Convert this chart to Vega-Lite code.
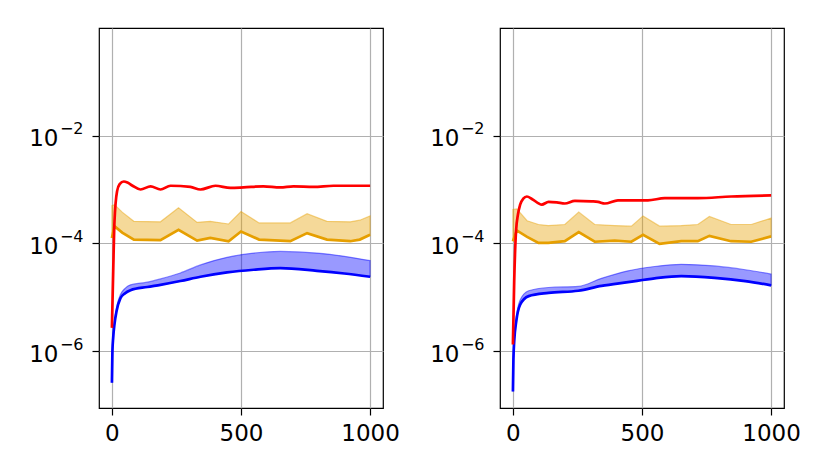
{
  "$schema": "https://vega.github.io/schema/vega-lite/v6.json",
  "description": "Two log-scale panels: red, orange band and blue band series over 0-1000",
  "padding": {"left": 28, "top": 27, "right": 5, "bottom": 5},
  "spacing": 117,
  "bounds": "flush",
  "config": {
    "view": {"stroke": "black", "strokeWidth": 1.2},
    "axis": {
      "domain": false,
      "grid": true,
      "gridColor": "#b0b0b0",
      "gridWidth": 1.2,
      "tickColor": "black",
      "tickSize": 7,
      "tickWidth": 1.2,
      "labelFont": "DejaVu Sans",
      "labelFontSize": 23,
      "labelColor": "black",
      "title": null
    }
  },
  "data": {
    "values": [
      {"p": "L", "s": "red", "x": 0, "y": 2.69e-6},
      {"p": "L", "s": "red", "x": 5, "y": 3.02e-5},
      {"p": "L", "s": "red", "x": 10, "y": 2.57e-4},
      {"p": "L", "s": "red", "x": 20, "y": 9.33e-4},
      {"p": "L", "s": "red", "x": 30, "y": 1.26e-3},
      {"p": "L", "s": "red", "x": 46, "y": 1.41e-3},
      {"p": "L", "s": "red", "x": 60, "y": 1.35e-3},
      {"p": "L", "s": "red", "x": 80, "y": 1.175e-3},
      {"p": "L", "s": "red", "x": 111, "y": 1.0e-3},
      {"p": "L", "s": "red", "x": 150, "y": 1.148e-3},
      {"p": "L", "s": "red", "x": 188, "y": 1.0e-3},
      {"p": "L", "s": "red", "x": 227, "y": 1.175e-3},
      {"p": "L", "s": "red", "x": 304, "y": 1.122e-3},
      {"p": "L", "s": "red", "x": 343, "y": 1.0e-3},
      {"p": "L", "s": "red", "x": 401, "y": 1.175e-3},
      {"p": "L", "s": "red", "x": 459, "y": 1.072e-3},
      {"p": "L", "s": "red", "x": 510, "y": 1.096e-3},
      {"p": "L", "s": "red", "x": 587, "y": 1.148e-3},
      {"p": "L", "s": "red", "x": 652, "y": 1.096e-3},
      {"p": "L", "s": "red", "x": 703, "y": 1.148e-3},
      {"p": "L", "s": "red", "x": 781, "y": 1.122e-3},
      {"p": "L", "s": "red", "x": 858, "y": 1.175e-3},
      {"p": "L", "s": "red", "x": 1000, "y": 1.175e-3},

      {"p": "L", "s": "orange", "x": 0, "y": 1.259e-4, "y2": 5.01e-4},
      {"p": "L", "s": "orange", "x": 10, "y": 2.089e-4, "y2": 5.248e-4},
      {"p": "L", "s": "orange", "x": 40, "y": 1.585e-4, "y2": 3.8e-4},
      {"p": "L", "s": "orange", "x": 85, "y": 1.175e-4, "y2": 2.57e-4},
      {"p": "L", "s": "orange", "x": 188, "y": 1.148e-4, "y2": 2.512e-4},
      {"p": "L", "s": "orange", "x": 258, "y": 1.778e-4, "y2": 4.571e-4},
      {"p": "L", "s": "orange", "x": 330, "y": 1.122e-4, "y2": 2.455e-4},
      {"p": "L", "s": "orange", "x": 381, "y": 1.259e-4, "y2": 2.57e-4},
      {"p": "L", "s": "orange", "x": 452, "y": 1.096e-4, "y2": 2.291e-4},
      {"p": "L", "s": "orange", "x": 500, "y": 1.66e-4, "y2": 3.89e-4},
      {"p": "L", "s": "orange", "x": 570, "y": 1.175e-4, "y2": 2.399e-4},
      {"p": "L", "s": "orange", "x": 691, "y": 1.096e-4, "y2": 2.399e-4},
      {"p": "L", "s": "orange", "x": 756, "y": 1.549e-4, "y2": 3.548e-4},
      {"p": "L", "s": "orange", "x": 833, "y": 1.175e-4, "y2": 2.57e-4},
      {"p": "L", "s": "orange", "x": 923, "y": 1.096e-4, "y2": 2.512e-4},
      {"p": "L", "s": "orange", "x": 960, "y": 1.175e-4, "y2": 2.692e-4},
      {"p": "L", "s": "orange", "x": 1000, "y": 1.445e-4, "y2": 3.236e-4},

      {"p": "L", "s": "blue", "x": 0, "y": 2.57e-7, "y2": 2.57e-7},
      {"p": "L", "s": "blue", "x": 2, "y": 1.0e-6, "y2": 1.047e-6},
      {"p": "L", "s": "blue", "x": 5, "y": 1.778e-6, "y2": 1.905e-6},
      {"p": "L", "s": "blue", "x": 10, "y": 3.162e-6, "y2": 3.548e-6},
      {"p": "L", "s": "blue", "x": 18, "y": 5.495e-6, "y2": 6.457e-6},
      {"p": "L", "s": "blue", "x": 33, "y": 9.55e-6, "y2": 1.122e-5},
      {"p": "L", "s": "blue", "x": 50, "y": 1.175e-5, "y2": 1.445e-5},
      {"p": "L", "s": "blue", "x": 72, "y": 1.349e-5, "y2": 1.698e-5},
      {"p": "L", "s": "blue", "x": 137, "y": 1.549e-5, "y2": 1.905e-5},
      {"p": "L", "s": "blue", "x": 188, "y": 1.698e-5, "y2": 2.188e-5},
      {"p": "L", "s": "blue", "x": 265, "y": 1.995e-5, "y2": 2.818e-5},
      {"p": "L", "s": "blue", "x": 343, "y": 2.399e-5, "y2": 3.981e-5},
      {"p": "L", "s": "blue", "x": 446, "y": 2.884e-5, "y2": 5.495e-5},
      {"p": "L", "s": "blue", "x": 549, "y": 3.236e-5, "y2": 6.607e-5},
      {"p": "L", "s": "blue", "x": 652, "y": 3.467e-5, "y2": 7.079e-5},
      {"p": "L", "s": "blue", "x": 794, "y": 3.09e-5, "y2": 6.607e-5},
      {"p": "L", "s": "blue", "x": 900, "y": 2.754e-5, "y2": 5.754e-5},
      {"p": "L", "s": "blue", "x": 1000, "y": 2.399e-5, "y2": 4.786e-5},

      {"p": "R", "s": "red", "x": 0, "y": 1.318e-6},
      {"p": "R", "s": "red", "x": 5, "y": 1.95e-5},
      {"p": "R", "s": "red", "x": 12, "y": 1.66e-4},
      {"p": "R", "s": "red", "x": 20, "y": 3.548e-4},
      {"p": "R", "s": "red", "x": 28, "y": 5.248e-4},
      {"p": "R", "s": "red", "x": 40, "y": 6.761e-4},
      {"p": "R", "s": "red", "x": 54, "y": 7.413e-4},
      {"p": "R", "s": "red", "x": 75, "y": 6.607e-4},
      {"p": "R", "s": "red", "x": 112, "y": 5.248e-4},
      {"p": "R", "s": "red", "x": 138, "y": 5.888e-4},
      {"p": "R", "s": "red", "x": 170, "y": 5.754e-4},
      {"p": "R", "s": "red", "x": 201, "y": 5.495e-4},
      {"p": "R", "s": "red", "x": 240, "y": 6.166e-4},
      {"p": "R", "s": "red", "x": 304, "y": 6.026e-4},
      {"p": "R", "s": "red", "x": 330, "y": 5.888e-4},
      {"p": "R", "s": "red", "x": 356, "y": 5.495e-4},
      {"p": "R", "s": "red", "x": 407, "y": 6.31e-4},
      {"p": "R", "s": "red", "x": 523, "y": 6.31e-4},
      {"p": "R", "s": "red", "x": 588, "y": 6.918e-4},
      {"p": "R", "s": "red", "x": 716, "y": 6.918e-4},
      {"p": "R", "s": "red", "x": 845, "y": 7.413e-4},
      {"p": "R", "s": "red", "x": 1000, "y": 7.762e-4},

      {"p": "R", "s": "orange", "x": 0, "y": 1.096e-4, "y2": 4.266e-4},
      {"p": "R", "s": "orange", "x": 15, "y": 1.738e-4, "y2": 4.365e-4},
      {"p": "R", "s": "orange", "x": 55, "y": 1.318e-4, "y2": 2.63e-4},
      {"p": "R", "s": "orange", "x": 99, "y": 1.023e-4, "y2": 2.239e-4},
      {"p": "R", "s": "orange", "x": 137, "y": 1.023e-4, "y2": 2.138e-4},
      {"p": "R", "s": "orange", "x": 201, "y": 1.096e-4, "y2": 2.239e-4},
      {"p": "R", "s": "orange", "x": 255, "y": 1.622e-4, "y2": 3.802e-4},
      {"p": "R", "s": "orange", "x": 317, "y": 1.072e-4, "y2": 2.239e-4},
      {"p": "R", "s": "orange", "x": 394, "y": 1.122e-4, "y2": 2.138e-4},
      {"p": "R", "s": "orange", "x": 459, "y": 1.072e-4, "y2": 2.089e-4},
      {"p": "R", "s": "orange", "x": 504, "y": 1.445e-4, "y2": 3.236e-4},
      {"p": "R", "s": "orange", "x": 568, "y": 9.772e-5, "y2": 2.089e-4},
      {"p": "R", "s": "orange", "x": 652, "y": 1.096e-4, "y2": 2.138e-4},
      {"p": "R", "s": "orange", "x": 716, "y": 1.096e-4, "y2": 2.239e-4},
      {"p": "R", "s": "orange", "x": 761, "y": 1.38e-4, "y2": 3.162e-4},
      {"p": "R", "s": "orange", "x": 845, "y": 1.096e-4, "y2": 2.239e-4},
      {"p": "R", "s": "orange", "x": 923, "y": 1.072e-4, "y2": 2.239e-4},
      {"p": "R", "s": "orange", "x": 1000, "y": 1.349e-4, "y2": 2.951e-4},

      {"p": "R", "s": "blue", "x": 0, "y": 1.778e-7, "y2": 1.778e-7},
      {"p": "R", "s": "blue", "x": 2, "y": 7.079e-7, "y2": 7.586e-7},
      {"p": "R", "s": "blue", "x": 5, "y": 1.514e-6, "y2": 1.66e-6},
      {"p": "R", "s": "blue", "x": 13, "y": 3.548e-6, "y2": 4.169e-6},
      {"p": "R", "s": "blue", "x": 28, "y": 7.244e-6, "y2": 8.913e-6},
      {"p": "R", "s": "blue", "x": 61, "y": 1.047e-5, "y2": 1.318e-5},
      {"p": "R", "s": "blue", "x": 138, "y": 1.202e-5, "y2": 1.514e-5},
      {"p": "R", "s": "blue", "x": 253, "y": 1.318e-5, "y2": 1.585e-5},
      {"p": "R", "s": "blue", "x": 343, "y": 1.622e-5, "y2": 2.239e-5},
      {"p": "R", "s": "blue", "x": 446, "y": 1.905e-5, "y2": 3.09e-5},
      {"p": "R", "s": "blue", "x": 549, "y": 2.239e-5, "y2": 3.715e-5},
      {"p": "R", "s": "blue", "x": 652, "y": 2.455e-5, "y2": 4.074e-5},
      {"p": "R", "s": "blue", "x": 781, "y": 2.291e-5, "y2": 3.802e-5},
      {"p": "R", "s": "blue", "x": 900, "y": 1.995e-5, "y2": 3.236e-5},
      {"p": "R", "s": "blue", "x": 1000, "y": 1.66e-5, "y2": 2.692e-5}
    ]
  },
  "hconcat": [
    {
      "width": 284,
      "height": 380,
      "transform": [{"filter": "datum.p == 'L'"}],
      "resolve": {"axis": {"y": "independent"}},
      "encoding": {
        "x": {
          "field": "x",
          "type": "quantitative",
          "scale": {"domain": [-50, 1050], "nice": false, "zero": false},
          "axis": {"values": [0, 500, 1000], "format": "d", "labelPadding": 7, "labelFlush": false}
        }
      },
      "layer": [
        {
          "transform": [{"filter": "datum.s == 'orange'"}],
          "mark": {"type": "area", "fill": "#e69f00", "fillOpacity": 0.4, "stroke": "#e69f00", "strokeOpacity": 0.45, "strokeWidth": 1.2},
          "encoding": {
            "y": {
              "field": "y",
              "type": "quantitative",
              "scale": {"type": "log", "domain": [8.75e-8, 1], "nice": false},
              "axis": {
                "orient": "left",
                "values": [1e-6, 1e-4, 1e-2],
                "labelPadding": 34,
                "labelBaseline": "alphabetic",
                "labelOffset": 10,
                "labelExpr": "'10'"
              }
            },
            "y2": {"field": "y2"}
          }
        },
        {
          "transform": [{"filter": "datum.s == 'blue'"}],
          "mark": {"type": "area", "interpolate": "monotone", "fill": "#0000ff", "fillOpacity": 0.4, "stroke": "#0000ff", "strokeOpacity": 0.45, "strokeWidth": 1.2},
          "encoding": {
            "y": {
              "field": "y",
              "type": "quantitative",
              "axis": {
                "orient": "left",
                "values": [1e-6, 1e-4, 1e-2],
                "grid": false,
                "tickOpacity": 0,
                "labelFontSize": 16,
                "labelPadding": 9,
                "labelBaseline": "alphabetic",
                "labelOffset": -2,
                "labelExpr": "datum.value < 1e-5 ? '−6' : datum.value < 1e-3 ? '−4' : '−2'"
              }
            },
            "y2": {"field": "y2"}
          }
        },
        {
          "transform": [{"filter": "datum.s == 'orange'"}],
          "mark": {"type": "line", "color": "#e69f00", "strokeWidth": 2.7},
          "encoding": {"y": {"field": "y", "type": "quantitative", "axis": null}}
        },
        {
          "transform": [{"filter": "datum.s == 'blue'"}],
          "mark": {"type": "line", "interpolate": "monotone", "color": "#0000ff", "strokeWidth": 2.7},
          "encoding": {"y": {"field": "y", "type": "quantitative", "axis": null}}
        },
        {
          "transform": [{"filter": "datum.s == 'red'"}],
          "mark": {"type": "line", "interpolate": "monotone", "color": "#ff0000", "strokeWidth": 2.7},
          "encoding": {"y": {"field": "y", "type": "quantitative", "axis": null}}
        }
      ]
    },
    {
      "width": 284,
      "height": 380,
      "transform": [{"filter": "datum.p == 'R'"}],
      "resolve": {"axis": {"y": "independent"}},
      "encoding": {
        "x": {
          "field": "x",
          "type": "quantitative",
          "scale": {"domain": [-50, 1050], "nice": false, "zero": false},
          "axis": {"values": [0, 500, 1000], "format": "d", "labelPadding": 7, "labelFlush": false}
        }
      },
      "layer": [
        {
          "transform": [{"filter": "datum.s == 'orange'"}],
          "mark": {"type": "area", "fill": "#e69f00", "fillOpacity": 0.4, "stroke": "#e69f00", "strokeOpacity": 0.45, "strokeWidth": 1.2},
          "encoding": {
            "y": {
              "field": "y",
              "type": "quantitative",
              "scale": {"type": "log", "domain": [8.75e-8, 1], "nice": false},
              "axis": {
                "orient": "left",
                "values": [1e-6, 1e-4, 1e-2],
                "labelPadding": 34,
                "labelBaseline": "alphabetic",
                "labelOffset": 10,
                "labelExpr": "'10'"
              }
            },
            "y2": {"field": "y2"}
          }
        },
        {
          "transform": [{"filter": "datum.s == 'blue'"}],
          "mark": {"type": "area", "interpolate": "monotone", "fill": "#0000ff", "fillOpacity": 0.4, "stroke": "#0000ff", "strokeOpacity": 0.45, "strokeWidth": 1.2},
          "encoding": {
            "y": {
              "field": "y",
              "type": "quantitative",
              "axis": {
                "orient": "left",
                "values": [1e-6, 1e-4, 1e-2],
                "grid": false,
                "tickOpacity": 0,
                "labelFontSize": 16,
                "labelPadding": 9,
                "labelBaseline": "alphabetic",
                "labelOffset": -2,
                "labelExpr": "datum.value < 1e-5 ? '−6' : datum.value < 1e-3 ? '−4' : '−2'"
              }
            },
            "y2": {"field": "y2"}
          }
        },
        {
          "transform": [{"filter": "datum.s == 'orange'"}],
          "mark": {"type": "line", "color": "#e69f00", "strokeWidth": 2.7},
          "encoding": {"y": {"field": "y", "type": "quantitative", "axis": null}}
        },
        {
          "transform": [{"filter": "datum.s == 'blue'"}],
          "mark": {"type": "line", "interpolate": "monotone", "color": "#0000ff", "strokeWidth": 2.7},
          "encoding": {"y": {"field": "y", "type": "quantitative", "axis": null}}
        },
        {
          "transform": [{"filter": "datum.s == 'red'"}],
          "mark": {"type": "line", "interpolate": "monotone", "color": "#ff0000", "strokeWidth": 2.7},
          "encoding": {"y": {"field": "y", "type": "quantitative", "axis": null}}
        }
      ]
    }
  ]
}
